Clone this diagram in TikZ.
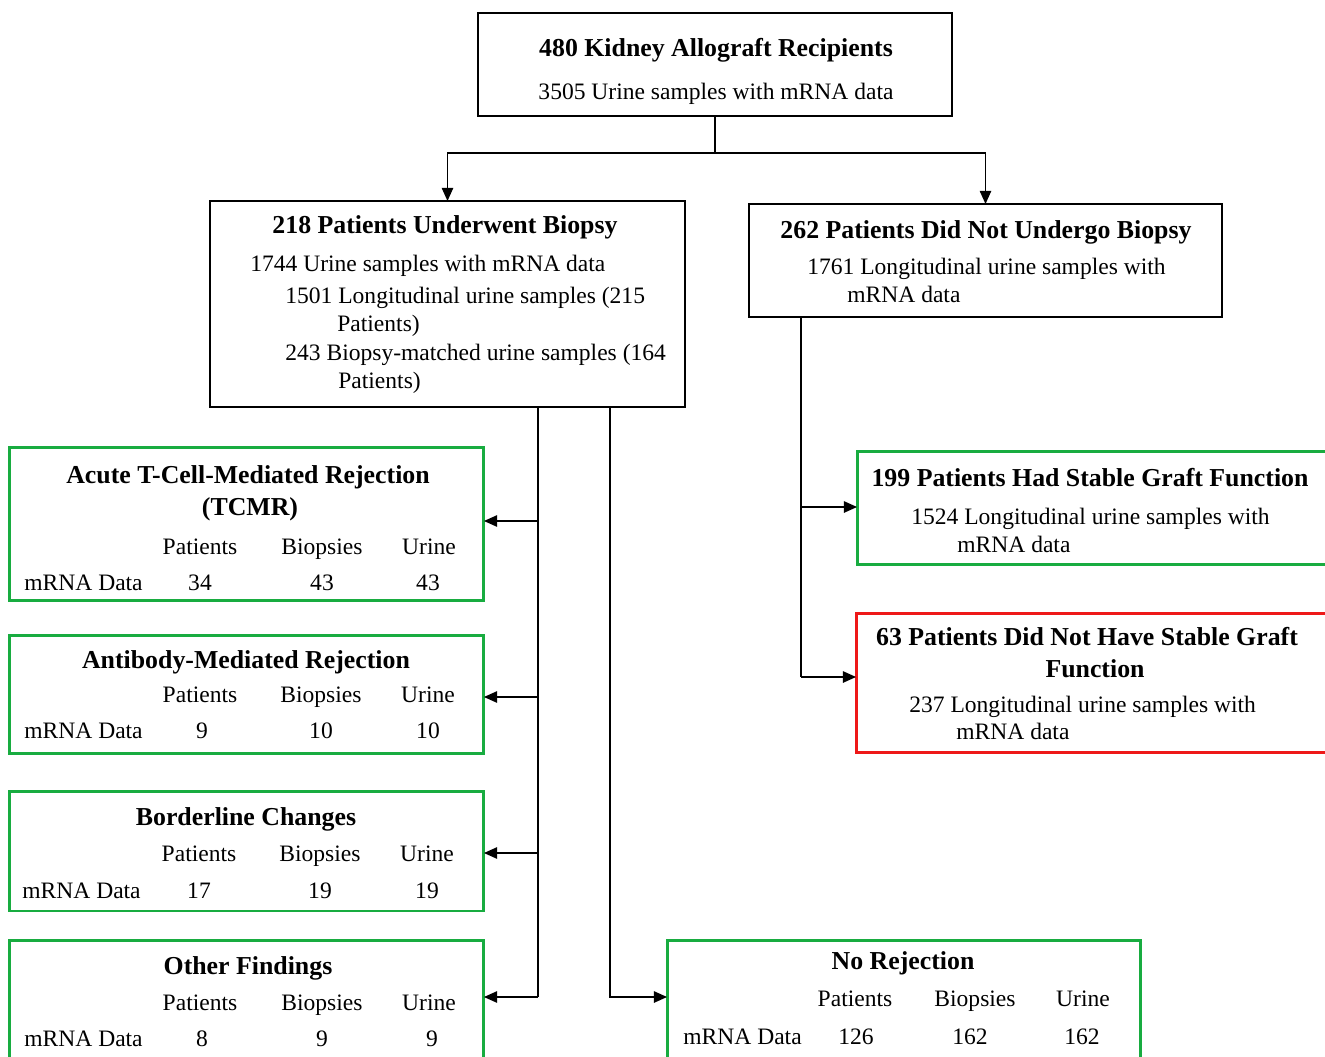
\documentclass[tikz,border=0pt]{standalone}
\usepackage{fontspec}
\setmainfont{Liberation Serif}
\usetikzlibrary{arrows.meta}
\definecolor{boxgreen}{RGB}{24,172,64}
\definecolor{boxred}{RGB}{238,24,24}
\tikzset{
  box/.style={rectangle, draw=black, line width=1.4pt, inner sep=0pt, outer sep=0pt},
  greenbox/.style={box, draw=boxgreen, line width=1.7pt},
  redbox/.style={box, draw=boxred, line width=1.7pt},
  txt/.style={inner sep=0pt, anchor=mid, yshift=-0.08cm, font=\fontsize{13.4}{16}\selectfont},
  ltxt/.style={txt, anchor=mid west},
  head/.style={txt, font=\fontsize{14.7}{17}\selectfont\bfseries},
  link/.style={line width=0.85pt},
  arrow/.style={link, -{Triangle[length=7.5pt, width=6.5pt]}}
}
\begin{document}
\begin{tikzpicture}[x=0.02cm, y=-0.02cm]
  \useasboundingbox (0,0) rectangle (1325,1057);

  % boxes
  \node[box, minimum width=9.48cm, minimum height=2.06cm] (top) at (715,64.5) {};
  \node[box, minimum width=9.5cm, minimum height=4.12cm] (bio) at (447.5,304) {};
  \node[box, minimum width=9.46cm, minimum height=2.26cm] (nobio) at (985.5,260.5) {};
  \node[greenbox, minimum width=9.5cm, minimum height=3.08cm] (tcmr) at (246.5,524) {};
  \node[greenbox, minimum width=9.5cm, minimum height=2.38cm] (amr) at (246.5,694.5) {};
  \node[greenbox, minimum width=9.5cm, minimum height=2.4cm] (bord) at (246.5,851) {};
  \node[greenbox, minimum width=9.5cm, minimum height=2.6cm] (other) at (246.5,1005) {};
  \node[greenbox, minimum width=9.48cm, minimum height=2.6cm] (norej) at (904,1005) {};
  \node[greenbox, minimum width=9.66cm, minimum height=2.28cm] (stable) at (1098.5,508) {};
  \node[redbox, minimum width=9.68cm, minimum height=2.8cm] (unstable) at (1098,683) {};

  % top box
  \node[head] (top-t) at (716,48) {480 Kidney Allograft Recipients};
  \node[txt] (top-s) at (716,91) {3505 Urine samples with mRNA data};

  % biopsy box
  \node[head] (bio-t) at (445,225) {218 Patients Underwent Biopsy};
  \node[ltxt] (bio-s1) at (250,263) {1744 Urine samples with mRNA data};
  \node[ltxt] (bio-s2) at (285,295) {1501 Longitudinal urine samples (215};
  \node[ltxt] (bio-s3) at (337,323) {Patients)};
  \node[ltxt] (bio-s4) at (285,352) {243 Biopsy-matched urine samples (164};
  \node[ltxt] (bio-s5) at (338,380) {Patients)};

  % no biopsy box
  \node[head] (nobio-t) at (986,230) {262 Patients Did Not Undergo Biopsy};
  \node[ltxt] (nobio-s1) at (807,266) {1761 Longitudinal urine samples with};
  \node[ltxt] (nobio-s2) at (847,294) {mRNA data};

  % stable / not stable
  \node[head] (stable-t) at (1090,478) {199 Patients Had Stable Graft Function};
  \node[ltxt] (stable-s1) at (911,516) {1524 Longitudinal urine samples with};
  \node[ltxt] (stable-s2) at (957,544) {mRNA data};
  \node[head] (unstable-t1) at (1087,637) {63 Patients Did Not Have Stable Graft};
  \node[head] (unstable-t2) at (1095,669) {Function};
  \node[ltxt] (unstable-s1) at (909,704) {237 Longitudinal urine samples with};
  \node[ltxt] (unstable-s2) at (956,731) {mRNA data};

  % TCMR
  \node[head] (tcmr-t1) at (248,475) {Acute T-Cell-Mediated Rejection};
  \node[head] (tcmr-t2) at (250,507) {(TCMR)};
  \foreach \h/\x [count=\i] in {Patients/200,Biopsies/322,Urine/429}
    \node[txt] (tcmr-h\i) at (\x,546) {\h};
  \node[ltxt] (tcmr-r) at (24,582) {mRNA Data};
  \foreach \v/\x [count=\i] in {34/200,43/322,43/428}
    \node[txt] (tcmr-v\i) at (\x,582) {\v};

  % AMR
  \node[head] (amr-t) at (246,660) {Antibody-Mediated Rejection};
  \foreach \h/\x [count=\i] in {Patients/200,Biopsies/321,Urine/428}
    \node[txt] (amr-h\i) at (\x,694) {\h};
  \node[ltxt] (amr-r) at (24,730) {mRNA Data};
  \foreach \v/\x [count=\i] in {9/202,10/321,10/428}
    \node[txt] (amr-v\i) at (\x,730) {\v};

  % borderline
  \node[head] (bord-t) at (246,817) {Borderline Changes};
  \foreach \h/\x [count=\i] in {Patients/199,Biopsies/320,Urine/427}
    \node[txt] (bord-h\i) at (\x,853) {\h};
  \node[ltxt] (bord-r) at (22,890) {mRNA Data};
  \foreach \v/\x [count=\i] in {17/199,19/320,19/427}
    \node[txt] (bord-v\i) at (\x,890) {\v};

  % other findings
  \node[head] (other-t) at (248,966) {Other Findings};
  \foreach \h/\x [count=\i] in {Patients/200,Biopsies/322,Urine/429}
    \node[txt] (other-h\i) at (\x,1002) {\h};
  \node[ltxt] (other-r) at (24,1038) {mRNA Data};
  \foreach \v/\x [count=\i] in {8/202,9/322,9/432}
    \node[txt] (other-v\i) at (\x,1038) {\v};

  % no rejection
  \node[head] (norej-t) at (903,961) {No Rejection};
  \foreach \h/\x [count=\i] in {Patients/855,Biopsies/975,Urine/1083}
    \node[txt] (norej-h\i) at (\x,998) {\h};
  \node[ltxt] (norej-r) at (683,1036) {mRNA Data};
  \foreach \v/\x [count=\i] in {126/856,162/970,162/1082}
    \node[txt] (norej-v\i) at (\x,1036) {\v};

  % connectors
  \coordinate (split) at (715,153);
  \draw[link] (top.south) -- (split);
  \draw[arrow] (split) -| (bio.north);
  \draw[arrow] (split) -| (nobio.north);

  \coordinate (lt) at (538,407);
  \coordinate (lb) at (538,997);
  \coordinate (rt) at (610,407);
  \coordinate (rb) at (610,997);
  \draw[link] (lt) -- (lb);
  \draw[arrow] (538,521) -- (538,521 -| tcmr.east);
  \draw[arrow] (538,697) -- (538,697 -| amr.east);
  \draw[arrow] (538,853) -- (538,853 -| bord.east);
  \draw[arrow] (lb) -- (lb -| other.east);
  \draw[arrow] (rt) |- (rb -| norej.west);

  \coordinate (nt) at (801,317);
  \coordinate (nb) at (801,677);
  \draw[link] (nt) -- (nb);
  \draw[arrow] (801,507) -- (801,507 -| stable.west);
  \draw[arrow] (nb) -- (nb -| unstable.west);
\end{tikzpicture}
\end{document}
